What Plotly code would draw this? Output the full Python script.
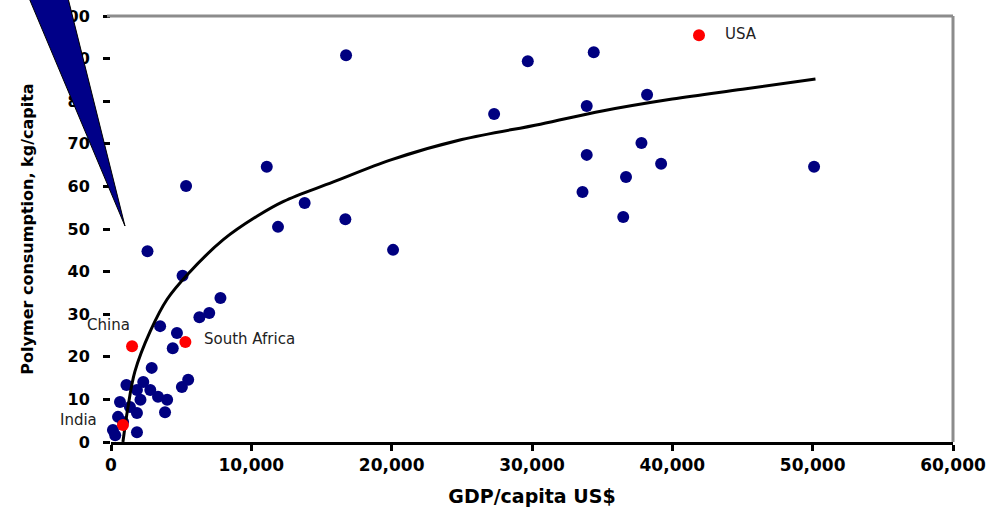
import plotly.graph_objects as go

# ---- data ----
gdp_k = [16.75, 29.7, 34.4, 27.3, 33.9, 38.2, 33.9, 37.8, 39.2, 36.7, 33.6, 36.5,
         16.7, 20.1, 50.1, 5.35, 11.1, 2.6, 11.9, 13.8, 5.1, 7.8, 7.0, 6.3,
         3.5, 4.7, 4.4, 5.5, 5.05, 2.9, 2.3, 2.8, 3.35, 4.0, 3.85, 1.85, 2.1,
         0.64, 1.35, 0.5, 1.85, 0.86, 0.14, 1.85, 0.3, 1.1]
polymer = [90.8, 89.4, 91.5, 77.0, 78.9, 81.5, 67.4, 70.2, 65.3, 62.2, 58.7, 52.8,
           52.3, 45.1, 64.6, 60.1, 64.6, 44.8, 50.5, 56.1, 39.0, 33.8, 30.3, 29.3,
           27.2, 25.6, 22.0, 14.6, 12.9, 17.4, 14.1, 12.2, 10.6, 9.9, 7.0, 12.2, 9.9,
           9.4, 8.2, 5.9, 6.8, 4.7, 2.8, 2.3, 1.6, 13.4]

highlight_names = ["USA", "China", "South Africa", "India"]
highlight_gdp_k = [41.9, 1.5, 5.3, 0.85]
highlight_polymer = [95.5, 22.5, 23.5, 4.0]

trend_gdp_k = [0.85, 1.2, 1.7, 2.8, 4.0, 5.5, 8.0, 10.4, 12.3, 15.8, 20.0, 25.0,
               30.6, 35.0, 40.0, 45.0, 50.2]
trend_polymer = [0.0, 8.0, 16.5, 26.0, 33.5, 39.5, 47.5, 53.0, 56.5, 61.0, 66.3,
                 71.0, 74.6, 77.7, 80.5, 82.8, 85.2]

x_ticks = [0, 10000, 20000, 30000, 40000, 50000, 60000]
x_tick_labels = ["0", "10,000", "20,000", "30,000", "40,000", "50,000", "60,000"]
y_ticks = [0, 10, 20, 30, 40, 50, 60, 70, 80, 90, 100]

gdp = [v * 1000 for v in gdp_k]
hl_gdp = [v * 1000 for v in highlight_gdp_k]
tr_gdp = [v * 1000 for v in trend_gdp_k]

NAVY = "#000080"
FONT = "DejaVu Sans"

fig = go.Figure()
fig.add_trace(go.Scatter(x=gdp, y=polymer, mode="markers",
                         marker=dict(color=NAVY, size=12, symbol="circle"),
                         showlegend=False, cliponaxis=False))
fig.add_trace(go.Scatter(x=tr_gdp, y=trend_polymer, mode="lines",
                         line=dict(color="black", width=3, shape="spline"),
                         showlegend=False))
fig.add_trace(go.Scatter(x=hl_gdp, y=highlight_polymer, mode="markers",
                         marker=dict(color="#ff0000", size=12, symbol="circle"),
                         showlegend=False, cliponaxis=False))

# labels for highlighted countries
label_pos = {
    "USA": dict(xanchor="left", yanchor="middle", xshift=24, yshift=1),
    "China": dict(xanchor="right", yanchor="middle", xshift=0, yshift=21),
    "South Africa": dict(xanchor="left", yanchor="middle", xshift=17, yshift=3),
    "India": dict(xanchor="right", yanchor="middle", xshift=-24, yshift=5),
}
for name, xv, yv in zip(highlight_names, hl_gdp, highlight_polymer):
    fig.add_annotation(x=xv, y=yv, text=name, showarrow=False,
                       font=dict(family=FONT, size=15, color="#222"),
                       **label_pos[name])

# plot geometry in pixels
L, R, T, B = 111, 953, 16, 442
W, H = R - L, B - T


def px(x):
    return (x - L) / W


def py(y):
    return (B - y) / H


# grey frame on top and right
fig.add_shape(type="line", xref="paper", yref="paper", x0=px(107), x1=1, y0=1, y1=1,
              line=dict(color="#8c8c8c", width=3))
fig.add_shape(type="line", xref="paper", yref="paper", x0=1, x1=1, y0=0, y1=1,
              line=dict(color="#8c8c8c", width=3))

# callout triangle
path = "M {:.4f},{:.4f} L {:.4f},{:.4f} L {:.4f},{:.4f} Z".format(
    px(29), py(-2), px(68), py(-2), px(125), py(226))
fig.add_shape(type="path", xref="paper", yref="paper", path=path,
              fillcolor="#000088", line=dict(color="black", width=1), layer="above")

fig.update_layout(
    width=1003, height=509,
    margin=dict(l=L, r=1003 - R, t=T, b=509 - B, autoexpand=False),
    paper_bgcolor="white", plot_bgcolor="white",
    font=dict(family=FONT, color="black"),
    xaxis=dict(range=[0, 60000], tickvals=x_ticks, ticktext=x_tick_labels,
               automargin=False,
               showgrid=False, zeroline=False, showline=True, linecolor="black",
               linewidth=3, ticks="outside", ticklen=6, tickwidth=3, tickcolor="black",
               tickfont=dict(family=FONT, size=17, weight="bold"),
               title=dict(text="GDP/capita US$", standoff=16,
                          font=dict(family=FONT, size=19, weight="bold"))),
    yaxis=dict(range=[0, 100], tickvals=y_ticks, automargin=False,
               showgrid=False, zeroline=False, showline=False,
               ticks="outside", ticklen=7, tickwidth=3, tickcolor="black",
               ticklabelstandoff=10,
               tickfont=dict(family=FONT, size=16, weight="bold"),
               title=dict(text="Polymer consumption, kg/capita", standoff=18,
                          font=dict(family=FONT, size=16, weight="bold"))),
)

fig.write_html("out.html")
